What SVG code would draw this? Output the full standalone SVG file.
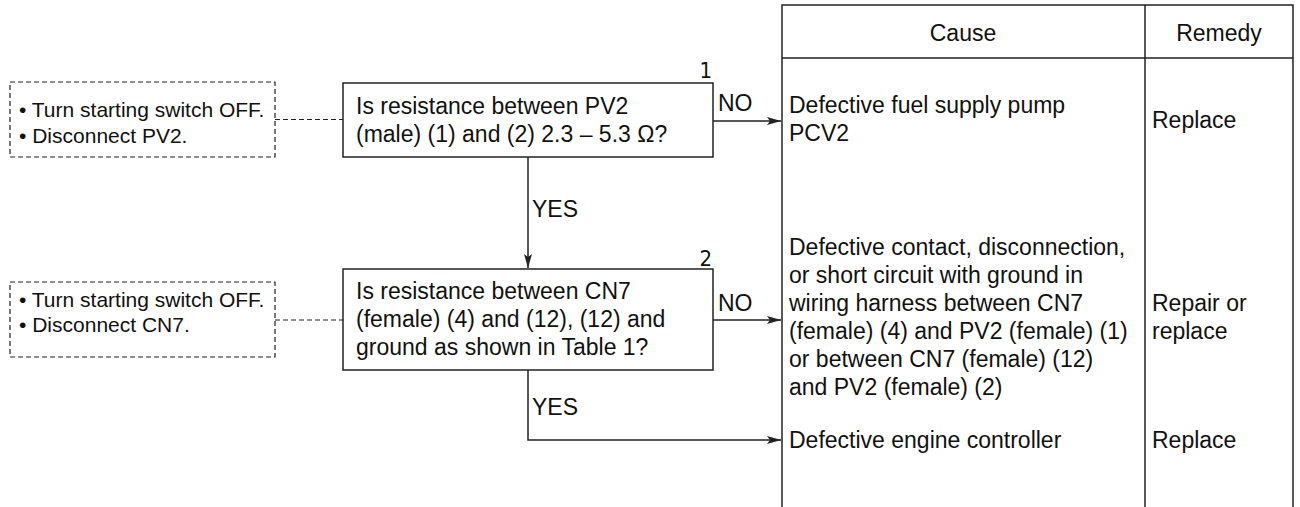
<svg xmlns="http://www.w3.org/2000/svg" width="1300" height="507" viewBox="0 0 1300 507">
<style>
text{font-family:"Liberation Sans",Arial,sans-serif;fill:#111}
.t{font-size:23px}
.s{font-size:21px}
.l{font-size:23px}
.n{font-family:"Liberation Sans Narrow","DejaVu Sans Condensed","Liberation Sans",sans-serif;font-size:22px}
.box{fill:#fff;stroke:#222;stroke-width:1.5}
.dbox{fill:none;stroke:#222;stroke-width:1.2;stroke-dasharray:5 3}
.ln{fill:none;stroke:#222;stroke-width:1.5}
.dl{fill:none;stroke:#222;stroke-width:1.2;stroke-dasharray:5 3}
.grid{fill:none;stroke:#222;stroke-width:1.5}
</style>
<defs>
<marker id="ah" viewBox="0 0 14 8" refX="14" refY="4" markerWidth="14" markerHeight="8" markerUnits="userSpaceOnUse" orient="auto">
<path d="M0,0 L14,4 L0,8 L3,4 Z" fill="#222"/>
</marker>
</defs>
<g id="table">
<path class="grid" d="M782,507 V5 H1293 V507 M1145,5 V507 M782,58 H1293"/>
<text class="t" x="963" y="41" text-anchor="middle">Cause</text>
<text class="t" x="1219" y="41" text-anchor="middle">Remedy</text>
</g>
<g id="cause1">
<text class="t" x="789" y="113">Defective fuel supply pump</text>
<text class="t" x="789" y="141">PCV2</text>
<text class="t" x="1152" y="128">Replace</text>
</g>
<g id="cause2">
<text class="t" x="789" y="255">Defective contact, disconnection,</text>
<text class="t" x="789" y="283">or short circuit with ground in</text>
<text class="t" x="789" y="311">wiring harness between CN7</text>
<text class="t" x="789" y="339">(female) (4) and PV2 (female) (1)</text>
<text class="t" x="789" y="367">or between CN7 (female) (12)</text>
<text class="t" x="789" y="395">and PV2 (female) (2)</text>
<text class="t" x="1152" y="311">Repair or</text>
<text class="t" x="1152" y="339">replace</text>
</g>
<g id="cause3">
<text class="t" x="789" y="448">Defective engine controller</text>
<text class="t" x="1152" y="448">Replace</text>
</g>
<g id="prep1">
<rect class="dbox" x="10" y="82" width="265" height="75"/>
<text class="s" x="19" y="117">• Turn starting switch OFF.</text>
<text class="s" x="19" y="143">• Disconnect PV2.</text>
</g>
<g id="prep2">
<rect class="dbox" x="10" y="282" width="265" height="75"/>
<text class="s" x="19" y="307">• Turn starting switch OFF.</text>
<text class="s" x="19" y="332">• Disconnect CN7.</text>
</g>
<g id="q1">
<rect class="box" x="343" y="83" width="370" height="74"/>
<text class="t" x="356" y="114">Is resistance between PV2</text>
<text class="t" x="356" y="142">(male) (1) and (2) 2.3 – 5.3 Ω?</text>
<text class="n" x="712" y="78" text-anchor="end">1</text>
</g>
<g id="q2">
<rect class="box" x="343" y="269" width="370" height="101"/>
<text class="t" x="356" y="299">Is resistance between CN7</text>
<text class="t" x="356" y="327">(female) (4) and (12), (12) and</text>
<text class="t" x="356" y="355">ground as shown in Table 1?</text>
<text class="n" x="712" y="266" text-anchor="end">2</text>
</g>
<g id="connectors">
<path class="dl" d="M275,119.5 H343"/>
<path class="dl" d="M275,320 H343"/>
<path class="ln" d="M713,121 H781" marker-end="url(#ah)"/>
<path class="ln" d="M528,157 V268" marker-end="url(#ah)"/>
<path class="ln" d="M713,320 H781" marker-end="url(#ah)"/>
<path class="ln" d="M528,370 V440 H781" marker-end="url(#ah)"/>
<text class="l" x="718" y="111">NO</text>
<text class="l" x="532" y="217">YES</text>
<text class="l" x="718" y="311">NO</text>
<text class="l" x="532" y="415">YES</text>
</g>
</svg>
